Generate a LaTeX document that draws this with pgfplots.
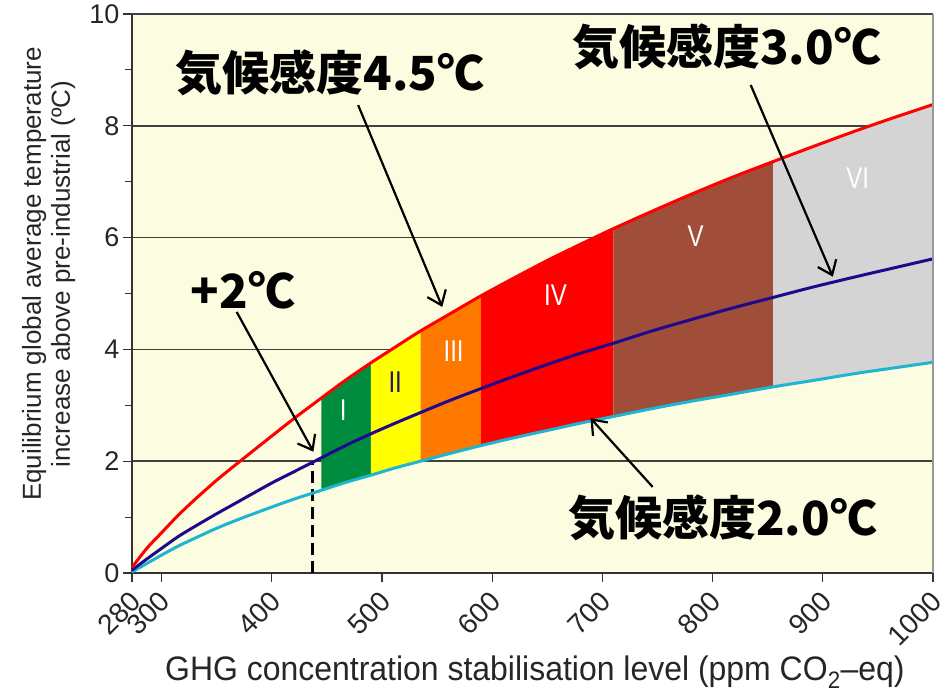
\documentclass[border=0pt]{standalone}
\usepackage{pgfplots}
\pgfplotsset{compat=1.18}
\usepackage{fontspec}
\setmainfont{Liberation Sans}
\newfontfamily\cjk{Noto Sans CJK JP}
\usetikzlibrary{arrows.meta}
\definecolor{bgy}{RGB}{252,252,224}
\definecolor{cRed}{RGB}{255,0,0}
\definecolor{cBlue}{RGB}{32,8,140}
\definecolor{cCyan}{RGB}{30,180,210}
\definecolor{cI}{RGB}{0,140,62}
\definecolor{cII}{RGB}{255,255,0}
\definecolor{cIII}{RGB}{255,120,0}
\definecolor{cIV}{RGB}{255,0,0}
\definecolor{cV}{RGB}{160,78,58}
\definecolor{cVI}{RGB}{212,212,212}
\definecolor{navy}{RGB}{30,20,100}
\newcommand{\rn}[1]{\scalebox{0.8}[1]{#1}}
\begin{document}
\begin{tikzpicture}
\path[use as bounding box] (-132pt,-125pt) rectangle (815pt,573pt);
\begin{axis}[
  scale only axis, width=801pt, height=559pt,
  xmin=280, xmax=1000, ymin=0, ymax=10,
  x coord trafo/.code={\pgfmathparse{(#1<300)?(300-(300-#1)*1.34):(#1)}},
  x coord inv trafo/.code={\pgfmathparse{(#1<300)?(300-(300-#1)/1.34):(#1)}},
  xtick={280,300,400,500,600,700,800,900,1000},
  xticklabels={280,300,400,500,600,700,800,900,1000},
  ytick={0,2,4,6,8,10}, yticklabels={0,2,4,6,8,10},
  minor ytick={1,3,5,7,9},
  axis lines*=left,
  axis line style={line width=1.5pt, draw=black!80},
  tick align=outside, major tick length=9pt, minor tick length=7pt,
  tick style={line width=1.2pt, black!80},
  ymajorgrids, grid style={line width=1.6pt, draw=black!75},
  axis background/.style={fill=bgy},
  clip mode=individual,
  yticklabel style={font=\fontsize{27}{30}\selectfont, text=black!85},
  xticklabel style={font=\fontsize{28}{30}\selectfont, text=black!85, xshift=6pt, yshift=-12pt, rotate=45, anchor=east},
  ylabel={Equilibrium global average temperature\\increase above pre-industrial (ºC)},
  ylabel style={at={(axis description cs:-0.1042,0.535)}, anchor=center, align=center, font=\fontsize{26}{29}\selectfont, text=black!85},
  xlabel={\scalebox{0.94}[1]{GHG concentration stabilisation level (ppm CO\textsubscript{2}–eq)}},
  xlabel style={at={(axis description cs:0.503,-0.177)}, anchor=center, font=\fontsize{34}{36}\selectfont, text=black!85},
]
% bands
\addplot[fill=cI, draw=none] coordinates {(445,1.48) (467,1.62) (490,1.75) (490,3.76) (467,3.45) (445,3.13)} -- cycle;
\addplot[fill=cII, draw=none] coordinates {(490,1.75) (512,1.88) (535,2.00) (535,4.33) (512,4.04) (490,3.76)} -- cycle;
\addplot[fill=cIII, draw=none] coordinates {(535,2.00) (562,2.14) (590,2.28) (590,4.96) (562,4.64) (535,4.33)} -- cycle;
\addplot[fill=cIV, draw=none] coordinates {(590,2.28) (620,2.42) (650,2.55) (680,2.68) (710,2.80) (710,6.16) (680,5.88) (650,5.59) (620,5.28) (590,4.96)} -- cycle;
\addplot[fill=cV, draw=none] coordinates {(710,2.80) (745,2.94) (780,3.07) (818,3.20) (855,3.33) (855,7.36) (818,7.08) (780,6.77) (745,6.47) (710,6.16)} -- cycle;
\addplot[fill=cVI, draw=none] coordinates {(855,3.33) (890,3.44) (930,3.57) (965,3.67) (1000,3.77) (1000,8.38) (965,8.15) (930,7.91) (890,7.62) (855,7.36)} -- cycle;
% dashed +2 line
\addplot[black, line width=3pt, dash pattern=on 12pt off 6pt] coordinates {(437,0) (437,1.98)};
% cyan: 2.0
\addplot[cCyan, line width=3pt, smooth] coordinates {(280,0.02) (290,0.17) (300,0.32) (315,0.48) (330,0.62) (350,0.80) (370,0.96) (400,1.18) (420,1.32) (445,1.48) (467,1.62) (490,1.75) (512,1.88) (535,2.00) (562,2.14) (590,2.28) (620,2.42) (650,2.55) (680,2.68) (710,2.80) (745,2.94) (780,3.07) (818,3.20) (855,3.33) (890,3.44) (930,3.57) (965,3.67) (1000,3.77)};
% blue: 3.0
\addplot[cBlue, line width=3pt, smooth] coordinates {(280,0.05) (290,0.25) (300,0.44) (315,0.65) (330,0.83) (350,1.06) (370,1.28) (400,1.61) (420,1.81) (437,1.98) (445,2.06) (467,2.28) (490,2.49) (512,2.68) (535,2.87) (562,3.09) (590,3.30) (620,3.52) (650,3.73) (680,3.93) (710,4.11) (745,4.33) (780,4.53) (818,4.74) (855,4.93) (890,5.11) (930,5.30) (965,5.46) (1000,5.62)};
% red: 4.5
\addplot[cRed, line width=3pt, smooth] coordinates {(280,0.10) (290,0.44) (300,0.72) (315,1.03) (330,1.31) (350,1.66) (370,1.98) (400,2.45) (420,2.76) (445,3.13) (467,3.45) (490,3.76) (512,4.04) (535,4.33) (562,4.64) (590,4.96) (620,5.28) (650,5.59) (680,5.88) (710,6.16) (745,6.47) (780,6.77) (818,7.08) (855,7.36) (890,7.62) (930,7.91) (965,8.15) (1000,8.38)};
% top and right frame
\draw[line width=1.6pt, black!75] (rel axis cs:0,1) -- (rel axis cs:1,1);
\draw[line width=1.2pt, black!40] (rel axis cs:1,0) -- (rel axis cs:1,1);
% roman numerals
\node[text=white, font=\fontsize{30}{32}\selectfont] at (axis cs:464.8,2.92) {\rn{I}};
\node[text=navy, font=\fontsize{30}{32}\selectfont] at (axis cs:512,3.42) {\rn{II}};
\node[text=white, font=\fontsize{30}{32}\selectfont] at (axis cs:565,3.96) {\rn{III}};
\node[text=white, font=\fontsize{30}{32}\selectfont] at (axis cs:657.4,4.97) {\rn{IV}};
\node[text=white, font=\fontsize{30}{32}\selectfont] at (axis cs:784.6,6.02) {\rn{V}};
\node[text=white, font=\fontsize{30}{32}\selectfont] at (axis cs:931.6,7.06) {\rn{VI}};
% arrows
\draw[-{Straight Barb[length=13pt,width=20pt]}, line width=2.2pt] (axis cs:478.4,8.37) -- (axis cs:554.7,4.76);
\draw[-{Straight Barb[length=13pt,width=20pt]}, line width=2.2pt] (axis cs:834.6,8.73) -- (axis cs:909.1,5.30);
\draw[-{Straight Barb[length=13pt,width=20pt]}, line width=2.2pt] (axis cs:368.2,4.67) -- (axis cs:437.8,2.17);
\draw[-{Straight Barb[length=13pt,width=20pt]}, line width=2.2pt] (axis cs:745.6,1.54) -- (axis cs:689.2,2.77);
% annotation texts
\node[inner sep=0pt, font=\cjk\bfseries\fontsize{47}{50}\selectfont] at (axis cs:452.9,8.94) {気候感度4.5℃};
\node[inner sep=0pt, font=\cjk\bfseries\fontsize{47}{50}\selectfont] at (axis cs:812.8,9.41) {気候感度3.0℃};
\node[inner sep=0pt, font=\cjk\bfseries\fontsize{47}{50}\selectfont] at (axis cs:373.9,5.06) {+2℃};
\node[inner sep=0pt, font=\cjk\bfseries\fontsize{47}{50}\selectfont] at (axis cs:809.2,0.98) {気候感度2.0℃};
\end{axis}
\end{tikzpicture}
\end{document}
